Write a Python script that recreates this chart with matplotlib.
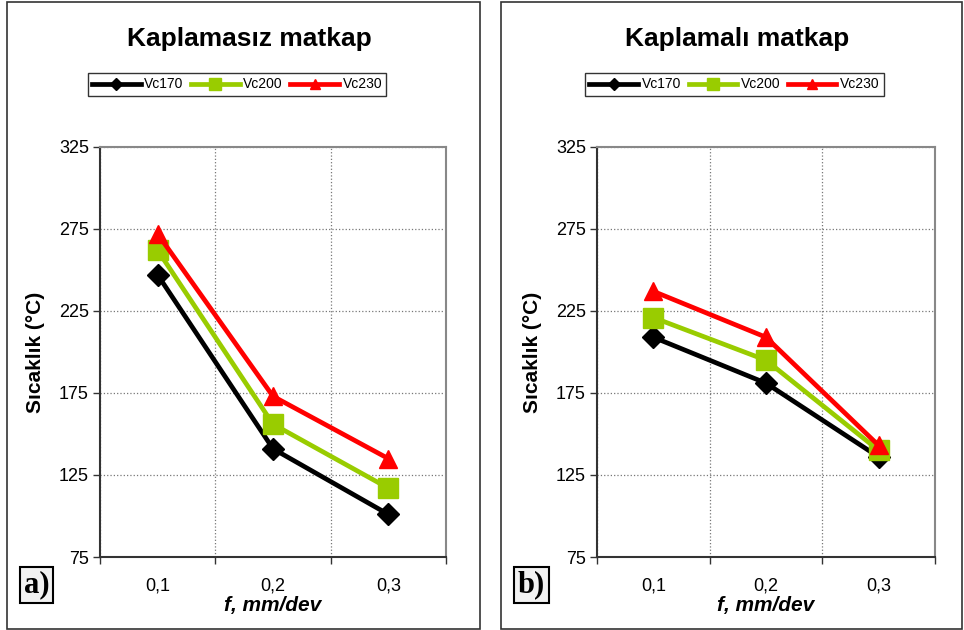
import matplotlib.pyplot as plt
from matplotlib.patches import Rectangle
import numpy as np

plt.rcParams['font.family'] = ['Liberation Sans', 'DejaVu Sans']

feeds = ['0,1', '0,2', '0,3']
series_names = ['Vc170', 'Vc200', 'Vc230']

# Kaplamasiz (uncoated)
uncoated_vc170 = [247, 141, 101]
uncoated_vc200 = [262, 156, 117]
uncoated_vc230 = [272, 173, 135]

# Kaplamali (coated)
coated_vc170 = [209, 181, 136]
coated_vc200 = [221, 195, 140]
coated_vc230 = [237, 209, 143]

colors = ['#000000', '#99CC00', '#FF0000']
markers = ['D', 's', '^']
msizes = [11, 15, 13]

W, H = 964, 630
fig = plt.figure(figsize=(W / 100, H / 100), dpi=100)


def fx(px):
    return px / W


def fy(py):
    return 1 - py / H


def draw_panel(x0, x1, ax_left, ax_right, title, data, letter, leg_cx):
    # outer box of the panel
    fig.patches.append(Rectangle((fx(x0), fy(629)), fx(x1 - x0), (629 - 2) / H,
                                 transform=fig.transFigure, fill=False,
                                 edgecolor='#333333', linewidth=1.2))
    ax = fig.add_axes([fx(ax_left), fy(557), fx(ax_right - ax_left), (557 - 147) / H])
    xs = np.arange(len(feeds))
    handles = []
    for vals, name, c, m, ms in zip(data, series_names, colors, markers, msizes):
        h, = ax.plot(xs, vals, color=c, linewidth=3.4, marker=m, markersize=ms,
                     markeredgecolor=c, label=name, zorder=3)
        handles.append(h)

    ax.set_xlim(-0.5, 2.5)
    ax.set_ylim(75, 325)
    ax.set_yticks([75, 125, 175, 225, 275, 325])
    ax.set_xticks(xs)
    ax.set_xticklabels(feeds)
    ax.set_xticks([-0.5, 0.5, 1.5, 2.5], minor=True)
    ax.tick_params(axis='x', which='major', length=0, pad=15, labelsize=13)
    ax.tick_params(axis='x', which='minor', length=5, width=1, color='#333333')
    ax.tick_params(axis='y', length=5, width=1, color='#333333', labelsize=13, pad=3)
    ax.grid(True, axis='y', which='major', linestyle=':', color='#777777', linewidth=0.9)
    ax.grid(True, axis='x', which='minor', linestyle=':', color='#777777', linewidth=0.9)

    for side in ['top', 'right']:
        ax.spines[side].set_color('#888888')
        ax.spines[side].set_linewidth(1.5)
    for side in ['left', 'bottom']:
        ax.spines[side].set_color('#333333')
        ax.spines[side].set_linewidth(1.5)

    ax.set_ylabel('Sıcaklık (°C)', fontsize=15, fontweight='bold', labelpad=10)
    ax.set_xlabel('f, mm/dev', fontsize=15, fontweight='bold', style='italic', labelpad=1)

    cx = (x0 + x1) / 2 + 6
    fig.text(fx(cx), fy(39), title, ha='center', va='center', fontsize=19, fontweight='bold')

    leg = fig.legend(handles=handles, loc='center', bbox_to_anchor=(fx(leg_cx), fy(84.5)),
                     ncol=3, fontsize=10, frameon=True, fancybox=False,
                     handlelength=3.5, handletextpad=0.25, columnspacing=0.55,
                     borderpad=0.3, markerscale=0.55)
    leg.get_frame().set_edgecolor('#000000')
    leg.get_frame().set_linewidth(1.0)

    fig.text(fx(x0 + 17), fy(585), letter, ha='left', va='center', fontsize=22,
             fontweight='bold', family=['Liberation Serif', 'DejaVu Serif'],
             bbox=dict(boxstyle='square,pad=0.12', facecolor='#F2F2F2',
                       edgecolor='#000000', linewidth=1.5))
    return ax


draw_panel(7, 480, 100, 446, 'Kaplamasız matkap',
           [uncoated_vc170, uncoated_vc200, uncoated_vc230], 'a)', 237)
draw_panel(501, 962, 597, 935, 'Kaplamalı matkap',
           [coated_vc170, coated_vc200, coated_vc230], 'b)', 734.5)

fig.savefig('out.png', dpi=100)
